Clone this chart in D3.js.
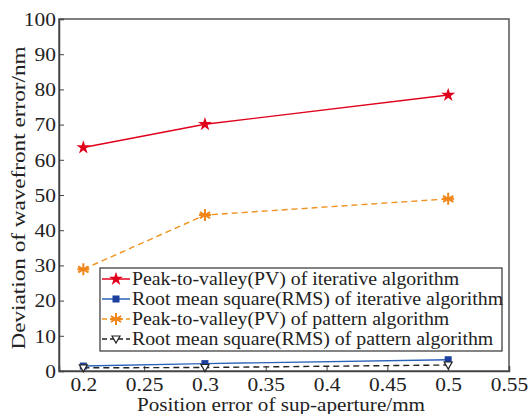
<!DOCTYPE html>
<html>
<head>
<meta charset="utf-8">
<script src="https://cdn.jsdelivr.net/npm/d3@7/dist/d3.min.js"></script>
<style>
  body { margin: 0; background: #fff; }
  svg { display: block; }
  svg text { font-family: "Liberation Serif", "Times New Roman", Times, "DejaVu Serif", serif; fill: #222; }
</style>
</head>
<body>
<svg id="chart" width="528" height="414"></svg>
<script>
// Position error of sub-aperture (mm)
const positions = [0.2, 0.3, 0.5];
// Wavefront error deviation (nm) for each method
const pvIterative = [63.5, 70.1, 78.4];
const rmsIterative = [1.4, 2.1, 3.2];
const pvPattern = [28.9, 44.3, 48.9];
const rmsPattern = [0.9, 1.0, 1.7];

const xTicks = [0.2, 0.25, 0.3, 0.35, 0.4, 0.45, 0.5, 0.55];
const yTicks = [0, 10, 20, 30, 40, 50, 60, 70, 80, 90, 100];

const seriesNames = [
  "Peak-to-valley(PV) of iterative algorithm",
  "Root mean square(RMS) of iterative algorithm",
  "Peak-to-valley(PV) of pattern algorithm",
  "Root mean square(RMS) of pattern algorithm"
];

const FONT = "'Liberation Serif', 'Times New Roman', Times, 'DejaVu Serif', serif";

const series = [
  { name: seriesNames[0], values: pvIterative, color: "#e0001b", dash: null, marker: "star", mColor: "#e0001b" },
  { name: seriesNames[1], values: rmsIterative, color: "#2a62b8", dash: null, marker: "square", mColor: "#1b3f9c" },
  { name: seriesNames[2], values: pvPattern, color: "#f0921e", dash: "6,4", marker: "asterisk", mColor: "#f0861a" },
  { name: seriesNames[3], values: rmsPattern, color: "#222", dash: "6,4", marker: "triangle", mColor: "#222" }
];

// slightly wide type: stretch glyphs horizontally by a factor
function widen(sel, factor) {
  sel.each(function () {
    const len = this.getComputedTextLength();
    d3.select(this).attr("textLength", len * factor).attr("lengthAdjust", "spacingAndGlyphs");
  });
}

const svg = d3.select("#chart");
const m = { left: 59, top: 19, right: 19, bottom: 43 };
const W = 528, H = 414;
const x = d3.scaleLinear().domain([0.18, 0.55]).range([m.left, W - m.right]);
const y = d3.scaleLinear().domain([0, 100]).range([H - m.bottom, m.top]);

// frame
svg.append("rect")
  .attr("x", m.left).attr("y", m.top)
  .attr("width", W - m.right - m.left).attr("height", H - m.bottom - m.top)
  .attr("fill", "none").attr("stroke", "#555").attr("stroke-width", 1.5);

// axes with inward ticks
const xAxis = svg.append("g")
  .attr("transform", `translate(0,${H - m.bottom})`)
  .call(d3.axisBottom(x).tickValues(xTicks).tickSize(-5).tickPadding(6).tickFormat(d3.format("")));
const yAxis = svg.append("g")
  .attr("transform", `translate(${m.left},0)`)
  .call(d3.axisLeft(y).tickValues(yTicks).tickSize(-5).tickPadding(3));

[xAxis, yAxis].forEach(g => {
  g.attr("font-family", FONT);
  g.select(".domain").attr("stroke", "#444").attr("stroke-width", 1.5);
  g.selectAll(".tick line").attr("stroke", "#444");
  g.selectAll(".tick text")
    .style("font-family", FONT)
    .style("font-size", "19.5px").attr("fill", "#222");
  widen(g.selectAll(".tick text"), 1.1);
});

// axis titles
svg.append("text")
  .attr("x", 281).attr("y", 411)
  .attr("text-anchor", "middle")
  .style("font-family", FONT)
  .style("font-size", "19.5px")
  .attr("textLength", 288).attr("lengthAdjust", "spacingAndGlyphs")
  .text("Position error of sup-aperture/mm");
svg.append("text")
  .attr("transform", "translate(25,198) rotate(-90)")
  .attr("text-anchor", "middle")
  .style("font-family", FONT)
  .style("font-size", "19.5px")
  .attr("textLength", 303).attr("lengthAdjust", "spacingAndGlyphs")
  .text("Deviation of wavefront error/nm");

// marker shapes
function drawMarker(g, type, cx, cy, color) {
  if (type === "star") {
    g.append("path")
      .attr("d", d3.symbol(d3.symbolStar, 60)())
      .attr("transform", `translate(${cx},${cy})`)
      .attr("fill", color);
  } else if (type === "square") {
    g.append("rect")
      .attr("x", cx - 3.5).attr("y", cy - 3.5)
      .attr("width", 7).attr("height", 7)
      .attr("fill", color);
  } else if (type === "asterisk") {
    // six-armed asterisk
    const r = 6;
    let d = "";
    for (let k = 0; k < 3; k++) {
      const a = Math.PI / 2 + k * Math.PI / 3;
      const dx = r * Math.cos(a), dy = r * Math.sin(a);
      d += `M${cx - dx},${cy - dy}L${cx + dx},${cy + dy}`;
    }
    d += `M${cx - r},${cy}L${cx + r},${cy}`;
    g.append("path")
      .attr("d", d)
      .attr("fill", "none").attr("stroke", color).attr("stroke-width", 2);
  } else if (type === "triangle") {
    g.append("path")
      .attr("d", `M${cx - 4},${cy - 3} L${cx + 4},${cy - 3} L${cx},${cy + 4} Z`)
      .attr("fill", "#fff").attr("stroke", color).attr("stroke-width", 1.2);
  }
}

const line = d3.line().x((d, i) => x(positions[i])).y(d => y(d));

const plot = svg.append("g");
series.forEach(s => {
  plot.append("path")
    .datum(s.values)
    .attr("d", line)
    .attr("fill", "none")
    .attr("stroke", s.color)
    .attr("stroke-width", 1.4)
    .attr("stroke-dasharray", s.dash);
});
series.forEach(s => {
  s.values.forEach((v, i) => drawMarker(plot, s.marker, x(positions[i]), y(v), s.mColor));
});

// legend
const lg = svg.append("g");
lg.append("rect")
  .attr("x", 100).attr("y", 268).attr("width", 402).attr("height", 83)
  .attr("fill", "#fff").attr("stroke", "#333").attr("stroke-width", 1.2);
series.forEach((s, i) => {
  const cy = 279 + i * 20;
  lg.append("line")
    .attr("x1", 102).attr("x2", 130).attr("y1", cy).attr("y2", cy)
    .attr("stroke", s.color).attr("stroke-width", 1.5)
    .attr("stroke-dasharray", s.dash ? "5,3" : null);
  drawMarker(lg, s.marker, 116, cy, s.mColor);
  const t = lg.append("text")
    .attr("x", 132).attr("y", cy)
    .attr("dy", "0.33em")
    .style("font-family", FONT)
    .style("font-size", "18.5px")
    .text(s.name);
  widen(t, 1.07);
});
</script>
</body>
</html>
